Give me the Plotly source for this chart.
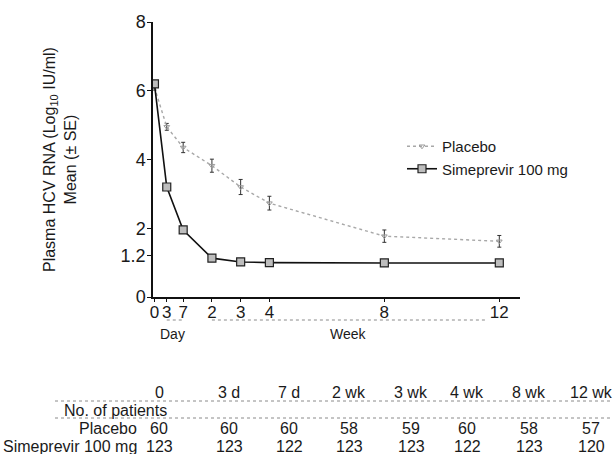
import plotly.graph_objects as go

# ---------------- data ----------------
time_weeks = [0, 3/7, 1, 2, 3, 4, 8, 12]
tick_labels = ["0", "3", "7", "2", "3", "4", "8", "12"]
placebo_mean = [6.10, 4.95, 4.35, 3.82, 3.20, 2.73, 1.77, 1.62]
placebo_se = [0.08, 0.10, 0.15, 0.19, 0.22, 0.20, 0.18, 0.17]
sim_mean = [6.20, 3.20, 1.95, 1.13, 1.02, 1.00, 0.99, 0.99]
sim_se = [0.06, 0.08, 0.06, 0.04, 0.03, 0.03, 0.03, 0.03]
y_ticks = [0, 1.2, 2, 4, 6, 8]
y_tick_labels = ["0", "1.2", "2", "4", "6", "8"]

table_headers = ["0", "3 d", "7 d", "2 wk", "3 wk", "4 wk", "8 wk", "12 wk"]
placebo_n = [60, 60, 60, 58, 59, 60, 58, 57]
sim_n = [123, 123, 122, 123, 123, 122, 123, 120]
row_labels = ["Placebo", "Simeprevir 100 mg"]

# ---------------- layout geometry ----------------
W, H = 615, 454
PLOT_L, PLOT_R, PLOT_T, PLOT_B = 153, 520, 22, 297   # screen px of plot area
L, T = PLOT_L, PLOT_T
PW = PLOT_R - PLOT_L
PH = PLOT_B - PLOT_T
R = W - L - PW
B = H - T - PH
FONT = "Liberation Sans, Arial, sans-serif"
TXT = "#1a1a1a"


def px(x):
    return (x - PLOT_L) / PW


def py(y):
    return (PLOT_B - y) / PH


def label(x, y, text, size=16, xanchor="center", angle=0):
    return dict(x=px(x), y=py(y), xref="paper", yref="paper", showarrow=False,
                text=text, xanchor=xanchor, yanchor="middle", textangle=angle,
                font=dict(family=FONT, size=size, color=TXT))


fig = go.Figure()

fig.add_trace(go.Scatter(
    x=time_weeks, y=placebo_mean, name="Placebo", mode="lines+markers",
    line=dict(color="#a8a8a8", width=1.4, dash="dot"),
    marker=dict(symbol="triangle-down-open", size=5, color="#9a9a9a"),
    error_y=dict(type="data", array=placebo_se, color="#333", thickness=1, width=2),
))
fig.add_trace(go.Scatter(
    x=time_weeks, y=sim_mean, name="Simeprevir 100 mg", mode="lines+markers",
    line=dict(color="#111", width=1.6),
    marker=dict(symbol="square", size=8, color="#bdbdbd", line=dict(color="#222", width=1.2)),
    error_y=dict(type="data", array=sim_se, color="#333", thickness=1, width=2),
))

annotations = []
annotations.append(label(60, 159, "Plasma HCV RNA (Log<sub>10</sub> IU/ml)<br>Mean (± SE)",
                         size=16, angle=-90))
annotations.append(label(172, 334, "Day", size=14))
annotations.append(label(348, 334, "Week", size=14))

col_x = [159, 229, 289, 349, 411, 467, 529, 591]
for cx, h in zip(col_x, table_headers):
    annotations.append(label(cx, 392, h))
for cx, n in zip(col_x, placebo_n):
    annotations.append(label(cx, 428, str(n)))
for cx, n in zip(col_x, sim_n):
    annotations.append(label(cx, 446, str(n)))
for ry, lab in zip([428, 446], row_labels):
    annotations.append(label(139, ry, lab, xanchor="right"))
annotations.append(label(62, 410, "No. of patients", xanchor="left"))

shapes = []
for ly in [401, 418]:
    shapes.append(dict(type="line", xref="paper", yref="paper", x0=px(55), x1=px(612),
                       y0=py(ly), y1=py(ly), line=dict(color="#8a8a8a", width=1, dash="dot")))
shapes.append(dict(type="line", xref="x", yref="paper", x0=time_weeks[1], x1=time_weeks[2],
                   y0=py(320), y1=py(320), line=dict(color="#8a8a8a", width=1, dash="dot")))
shapes.append(dict(type="line", xref="x", yref="paper", x0=time_weeks[3], x1=11.6,
                   y0=py(320), y1=py(320), line=dict(color="#8a8a8a", width=1, dash="dot")))

fig.update_layout(
    width=W, height=H, margin=dict(l=L, r=R, t=T, b=B, pad=0),
    paper_bgcolor="white", plot_bgcolor="white",
    font=dict(family=FONT, color=TXT),
    showlegend=True,
    legend=dict(x=px(402), y=py(130), xanchor="left", yanchor="top",
                bgcolor="rgba(0,0,0,0)", font=dict(family=FONT, size=15, color=TXT),
                itemwidth=30, tracegroupgap=0),
    xaxis=dict(range=[-0.05, 12.72], showline=True, linecolor="#111", linewidth=1.5,
               tickmode="array", tickvals=time_weeks, ticktext=tick_labels,
               ticks="outside", ticklen=3, tickcolor="#111", ticklabelstandoff=-4,
               tickfont=dict(family=FONT, size=17, color=TXT),
               showgrid=False, zeroline=False, fixedrange=True),
    yaxis=dict(range=[0, 8], showline=True, linecolor="#111", linewidth=1.5,
               tickmode="array", tickvals=y_ticks, ticktext=y_tick_labels,
               ticks="outside", ticklen=4, tickcolor="#111", ticklabelstandoff=-2,
               tickfont=dict(family=FONT, size=18, color=TXT),
               showgrid=False, zeroline=False, fixedrange=True),
    annotations=annotations, shapes=shapes,
)

fig.write_html(
    "out.html",
    config={"displayModeBar": False},
    post_script="document.body.style.margin='0';document.body.style.overflow='hidden';",
)
